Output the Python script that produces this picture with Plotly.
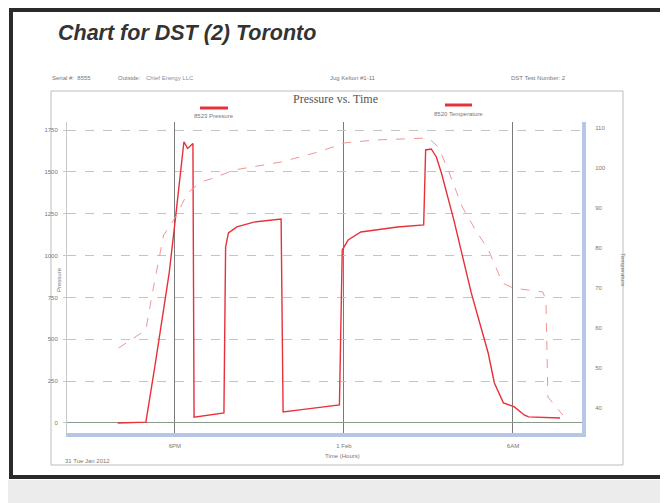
import plotly.graph_objects as go

# ---- data (hours since 31 Jan 2012 00:00) ----
pressure_hours = [15.97, 16.5, 16.97, 17.3, 17.6, 17.8, 18.04, 18.15, 18.32, 18.45, 18.64, 18.68,
                  19.0, 19.4, 19.74, 19.8, 19.9, 20.2, 20.8, 21.77, 21.84, 22.5, 23.2, 23.84,
                  23.94, 24.15, 24.6, 25.9, 26.83, 26.9, 27.1, 27.28, 27.46, 27.9, 28.52,
                  29.12, 29.34, 29.66, 30.05, 30.4, 30.55, 31.2, 31.67]
pressure_values = [0, 3, 5, 350, 693, 900, 1254, 1420, 1680, 1640, 1670, 35,
                   42, 52, 60, 1051, 1135, 1171, 1200, 1218, 66, 80, 95, 108,
                   1033, 1093, 1141, 1171, 1183, 1631, 1637, 1589, 1493, 1213, 777,
                   418, 239, 120, 96, 48, 36, 32, 30]

temp_hours = [16.0, 16.55, 16.97, 17.2, 17.5, 17.6, 17.85, 18.1, 18.45, 18.92, 19.38, 20.1,
              21.77, 22.95, 23.84, 24.0, 25.1, 27.0, 27.35, 27.7, 28.2, 28.67, 29.13,
              29.63, 30.0, 31.06, 31.17, 31.24, 31.53, 31.77]
temp_values = [55, 57.5, 59.5, 68.75, 79.5, 83.25, 85.75, 88.75, 93.75, 96.5, 97.5, 99.5,
               101.5, 103.75, 105.75, 106.25, 107, 107.5, 105.25, 99.5, 90.25, 84.5, 79.5,
               71.25, 70, 69, 67, 42.75, 40.25, 38.25]

x_tick_vals = [18, 24, 30]
x_tick_text = ["6PM", "1 Feb", "6AM"]
p_ticks = [0, 250, 500, 750, 1000, 1250, 1500, 1750]
t_ticks = [40, 50, 60, 70, 80, 90, 100, 110]

# coordinates below are in window pixels; the page body adds an 8px margin
OFF = 8
WIN_W, WIN_H = 668, 503
L, R, T, B = 67, 582, 122, 433


def px(x):
    return (x - L) / (R - L)


def py(y):
    return (B - y) / (B - T)


fig = go.Figure()
fig.add_trace(go.Scatter(x=temp_hours, y=temp_values, yaxis="y2", mode="lines",
                         line=dict(color="#f29494", width=1, dash="dash"),
                         name="8520 Temperature"))
fig.add_trace(go.Scatter(x=pressure_hours, y=pressure_values, mode="lines",
                         line=dict(color="#e8303a", width=1.4),
                         name="8523 Pressure"))

small = dict(family="Liberation Sans", size=6, color="#777")

fig.update_layout(
    width=WIN_W - OFF, height=WIN_H - OFF,
    margin=dict(l=L - OFF, r=WIN_W - R, t=T - OFF, b=WIN_H - B, pad=0),
    paper_bgcolor="white", plot_bgcolor="white",
    showlegend=False,
    xaxis=dict(range=[14.17, 32.45], tickvals=x_tick_vals, ticktext=x_tick_text,
               showgrid=True, gridcolor="#7a7a7a", gridwidth=1,
               showline=True, linecolor="#b8c6e6", linewidth=4,
               ticks="", tickfont=small, zeroline=False, ticklabelstandoff=4),
    yaxis=dict(range=[-60, 1798], tickvals=p_ticks, showgrid=True,
               gridcolor="#c4c4c4", griddash="dash", gridwidth=1,
               zeroline=True, zerolinecolor="#8a9a8a", zerolinewidth=1,
               showline=True, linecolor="#c8c8c8", linewidth=1,
               ticks="outside", ticklen=3, tickcolor="#c8c8c8",
               tickfont=small, ticklabelstandoff=4),
    yaxis2=dict(range=[33.75, 111.5], tickvals=t_ticks, overlaying="y", side="right",
                showgrid=False, zeroline=False, showline=True,
                linecolor="#b8c6e6", linewidth=4, ticks="", tickfont=small,
                ticklabelstandoff=8),
)

ann = []


def text(x, y, s, size=6, color="#777", family="Liberation Sans", xanchor="center",
         angle=0):
    ann.append(dict(xref="paper", yref="paper", x=px(x), y=py(y), text=s,
                    showarrow=False, xanchor=xanchor, yanchor="middle",
                    textangle=angle,
                    font=dict(family=family, size=size, color=color)))


text(56, 33, "<b><i>Chart for DST (2) Toronto</i></b>", size=21.5, color="#333",
     xanchor="left")
text(50, 78, "Serial #:  8555", xanchor="left")
text(116, 78, "Outside:", xanchor="left")
text(144, 78, "Chief Energy LLC", color="#7f8fb0", xanchor="left")
text(353, 78, "Jug Kelton #1-11")
text(538, 78, "DST Test Number: 2")
text(335, 99, "Pressure vs. Time", size=12, color="#555", family="Liberation Serif")
text(214, 116, "8523 Pressure")
text(458, 114, "8520 Temperature")
text(59, 280, "Pressure", angle=-90)
text(623, 270, "Temperature", angle=90)
text(342, 456, "Time (Hours)")
text(63, 461, "31 Tue Jan 2012", xanchor="left")
fig.update_layout(annotations=ann)

shapes = []


def rect(x0, y0, x1, y1, color, width, fill=None):
    shapes.append(dict(type="rect", xref="paper", yref="paper",
                       x0=px(x0), y0=py(y0), x1=px(x1), y1=py(y1),
                       line=dict(color=color, width=width),
                       fillcolor=fill if fill else "rgba(0,0,0,0)", layer="below"))


def line(x0, y0, x1, y1, color, width):
    shapes.append(dict(type="line", xref="paper", yref="paper",
                       x0=px(x0), y0=py(y0), x1=px(x1), y1=py(y1),
                       line=dict(color=color, width=width)))


rect(-5, 480, 680, 510, "#ececec", 0, fill="#ececec")
rect(11, 10, 662, 477, "#2a2a2a", 4)
rect(51, 91, 623, 465, "#bdbdbd", 1)
line(200, 108, 228, 108, "#e8303a", 3)
line(445, 105, 472, 105, "#e8303a", 3)
fig.update_layout(shapes=shapes)

fig.write_html("out.html")
